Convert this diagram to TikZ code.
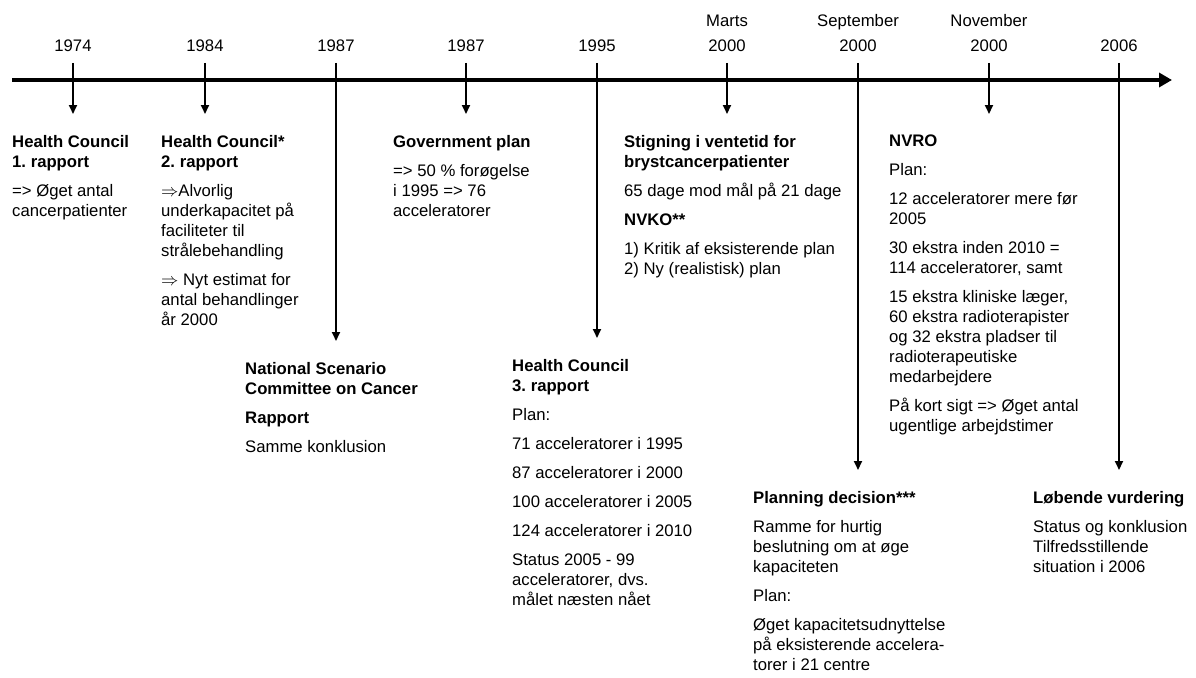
\documentclass[tikz,border=0pt]{standalone}
\usepackage{fontspec}
\setmainfont{Liberation Sans}
\usetikzlibrary{arrows.meta,positioning}
\frenchspacing

\begin{document}
\begin{tikzpicture}[x=1pt, y=-1pt,
    year/.style={anchor=south, align=center, inner sep=0pt, font=\fontsize{16.7}{25}\selectfont},
    event/.style={anchor=north west, align=left, inner sep=0pt, font=\fontsize{16.7}{20}\selectfont},
    axis/.style={line width=4pt, -{Triangle[width=14pt,length=13pt]}},
    marker/.style={line width=1.8pt, -{Triangle[width=8pt,length=9pt]}, shorten >=21pt}
]
\useasboundingbox (0,0) rectangle (1196,677);

% Time axis
\coordinate (start) at (12,80);
\coordinate (end) at (1172,80);
\draw [axis] (start) -- (end);

% Year labels
\node [year] (y1) at (73,52) {1974};
\node [year] (y2) at (205,52) {1984};
\node [year] (y3) at (336,52) {1987};
\node [year] (y4) at (466,52) {1987};
\node [year] (y5) at (597,52) {1995};
\node [year] (y6) at (727,52) {Marts\\2000};
\node [year] (y7) at (858,52) {September\\2000};
\node [year] (y8) at (989,52) {November\\2000};
\node [year] (y9) at (1119,52) {2006};

% Tick tops
\coordinate [below=11pt of y1] (t1);
\coordinate [below=11pt of y2] (t2);
\coordinate [below=11pt of y3] (t3);
\coordinate [below=11pt of y4] (t4);
\coordinate [below=11pt of y5] (t5);
\coordinate [below=11pt of y6] (t6);
\coordinate [below=11pt of y7] (t7);
\coordinate [below=11pt of y8] (t8);
\coordinate [below=11pt of y9] (t9);

% Events above
\node [event] (hc1) at (12,135) {\textbf{Health Council}\\\textbf{1. rapport}\\[9pt]
    => Øget antal\\cancerpatienter};
\node [event] (hc2) at (161,135) {\textbf{Health Council*}\\\textbf{2. rapport}\\[9pt]
    $\Rightarrow$Alvorlig\\underkapacitet på\\faciliteter til\\strålebehandling\\[9pt]
    $\Rightarrow$ Nyt estimat for\\antal behandlinger\\år 2000};
\node [event] (gov) at (393,135) {\textbf{Government plan}\\[9pt]
    => 50 \% forøgelse\\i 1995 => 76\\acceleratorer};
\node [event] (nvko) at (624,135) {\textbf{Stigning i ventetid for}\\\textbf{brystcancerpatienter}\\[9pt]
    65 dage mod mål på 21 dage\\[9pt]
    \textbf{NVKO**}\\[9pt]
    1) Kritik af eksisterende plan\\2) Ny (realistisk) plan};
\node [event] (nvro) at (889,135) {\textbf{NVRO}\\[9pt]
    Plan:\\[9pt]
    12 acceleratorer mere før\\2005\\[9pt]
    30 ekstra inden 2010 =\\114 acceleratorer, samt\\[9pt]
    15 ekstra kliniske læger,\\60 ekstra radioterapister\\og 32 ekstra pladser til\\radioterapeutiske\\medarbejdere\\[9pt]
    På kort sigt => Øget antal\\ugentlige arbejdstimer};

% Events below
\node [event] (nscc) at (245,362) {\textbf{National Scenario}\\\textbf{Committee on Cancer}\\[9pt]
    \textbf{Rapport}\\[9pt]
    Samme konklusion};
\node [event] (hc3) at (512,359) {\textbf{Health Council}\\\textbf{3. rapport}\\[9pt]
    Plan:\\[9pt]
    71 acceleratorer i 1995\\[9pt]
    87 acceleratorer i 2000\\[9pt]
    100 acceleratorer i 2005\\[9pt]
    124 acceleratorer i 2010\\[9pt]
    Status 2005 - 99\\acceleratorer, dvs.\\målet næsten nået};
\node [event] (plan) at (753,491) {\textbf{Planning decision***}\\[9pt]
    Ramme for hurtig\\beslutning om at øge\\kapaciteten\\[9pt]
    Plan:\\[9pt]
    Øget kapacitetsudnyttelse\\på eksisterende accelera-\\torer i 21 centre};
\node [event] (eval) at (1033,491) {\textbf{Løbende vurdering}\\[9pt]
    Status og konklusion\\Tilfredsstillende\\situation i 2006};

% Markers
\draw [marker] (t1) -- (t1 |- hc1.north);
\draw [marker] (t2) -- (t2 |- hc2.north);
\draw [marker] (t3) -- (t3 |- nscc.north);
\draw [marker] (t4) -- (t4 |- gov.north);
\draw [marker] (t5) -- (t5 |- hc3.north);
\draw [marker] (t6) -- (t6 |- nvko.north);
\draw [marker] (t7) -- (t7 |- plan.north);
\draw [marker] (t8) -- (t8 |- nvro.north);
\draw [marker] (t9) -- (t9 |- eval.north);

\end{tikzpicture}
\end{document}
